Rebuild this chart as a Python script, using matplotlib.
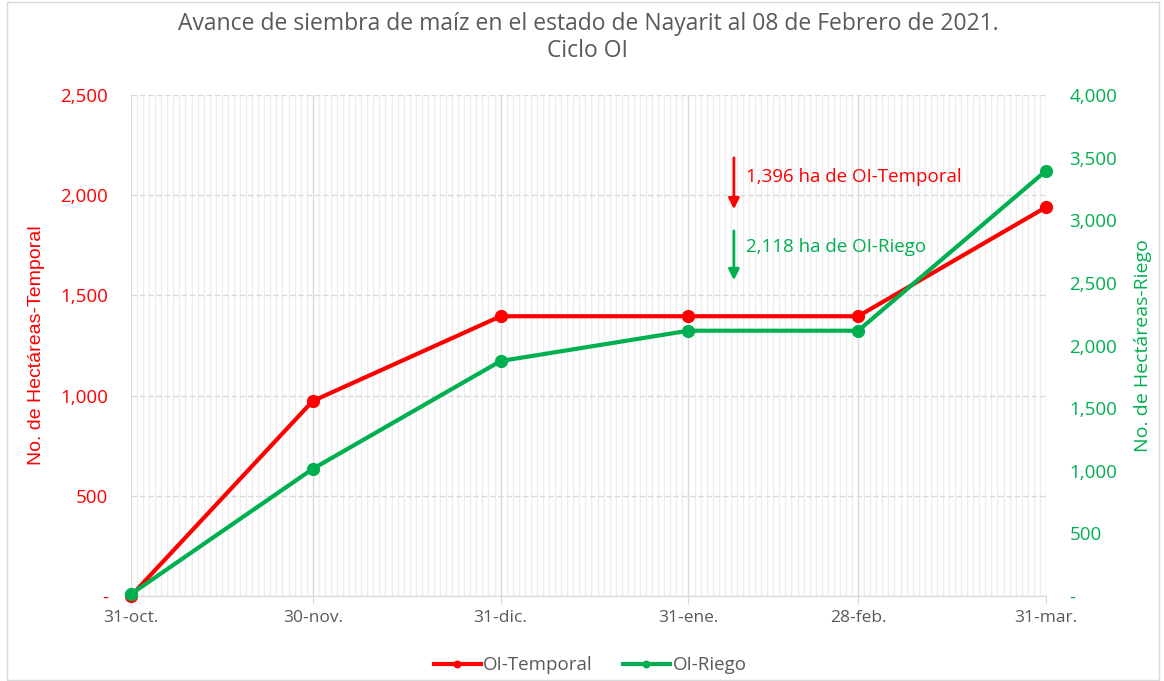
import datetime as dt
import matplotlib
matplotlib.use("Agg")
import matplotlib.pyplot as plt
import matplotlib.dates as mdates
from matplotlib.ticker import FuncFormatter, MultipleLocator

fechas = [dt.date(2020, 10, 31), dt.date(2020, 11, 30), dt.date(2020, 12, 31),
          dt.date(2021, 1, 31), dt.date(2021, 2, 28), dt.date(2021, 3, 31)]
etiquetas = ["31-oct.", "30-nov.", "31-dic.", "31-ene.", "28-feb.", "31-mar."]
temporal = [0, 973, 1396, 1396, 1396, 1940]
riego = [15, 1015, 1876, 2118, 2118, 3395]

ROJO = "#FF0000"
VERDE = "#00B050"
GRIS = "#595959"

plt.rcParams['font.family'] = ['Open Sans', 'DejaVu Sans']

fig = plt.figure(figsize=(11.64, 6.81), dpi=100)
ax = fig.add_axes([0.1125, 0.1248, 0.7861, 0.7357])
ax2 = ax.twinx()

l1, = ax.plot(fechas, temporal, color=ROJO, lw=3, marker="o", ms=8.5, label="OI-Temporal",
              zorder=3, clip_on=False)
l2, = ax2.plot(fechas, riego, color=VERDE, lw=3, marker="o", ms=8.5, label="OI-Riego",
               zorder=3, clip_on=False)

ax.set_xlim(fechas[0], fechas[-1])
ax.set_ylim(0, 2500)
ax2.set_ylim(0, 4000)

ax.set_xticks(fechas)
ax.set_xticklabels(etiquetas)
ax.xaxis.set_minor_locator(mdates.DayLocator())
ax.grid(which="minor", axis="x", color="#eeeeee", lw=1)
ax.grid(which="major", axis="x", color="#d9d9d9", lw=1)
ax.grid(which="major", axis="y", color="#d9d9d9", lw=1, ls=(0, (4, 2)))
ax.set_axisbelow(True)

fmt = FuncFormatter(lambda v, p: "-" if v == 0 else f"{v:,.0f}")
ax.yaxis.set_major_locator(MultipleLocator(500))
ax2.yaxis.set_major_locator(MultipleLocator(500))
ax.yaxis.set_major_formatter(fmt)
ax2.yaxis.set_major_formatter(fmt)

ax.tick_params(axis="y", colors=ROJO, labelsize=13.5, length=0, pad=16.5)
ax2.tick_params(axis="y", colors=VERDE, labelsize=13.5, length=0, pad=17)
ax.tick_params(axis="x", which="major", colors="#d9d9d9", labelcolor=GRIS, labelsize=12.5, length=6, pad=4)
ax.tick_params(axis="x", which="minor", length=0)

for a in (ax, ax2):
    for s in ("top", "left", "right"):
        a.spines[s].set_visible(False)
    a.spines["bottom"].set_color("#d9d9d9")

ax.set_ylabel("No. de Hectáreas-Temporal", color=ROJO, fontsize=14,
              family=['Liberation Sans', 'DejaVu Sans'], labelpad=11)
ax2.set_ylabel("No. de Hectáreas-Riego", color=VERDE, fontsize=14, labelpad=12)

fig.text(0.505, 0.945,
         "Avance de siembra de maíz en el estado de Nayarit al 08 de Febrero de 2021.\nCiclo OI",
         color=GRIS, fontsize=16.5, ha="center", va="center", linespacing=1.2)

# anotaciones
xa = dt.datetime(2021, 2, 7, 12)
xt = dt.datetime(2021, 2, 9, 12)
ax.annotate("", xy=(xa, 1916), xytext=(xa, 2200),
            arrowprops=dict(arrowstyle="-|>", color=ROJO, lw=2, mutation_scale=16), zorder=4)
ax.text(xt, 2091, "1,396 ha de OI-Temporal", color=ROJO, fontsize=13.5, va="center")
ax.annotate("", xy=(xa, 1562), xytext=(xa, 1836),
            arrowprops=dict(arrowstyle="-|>", color=VERDE, lw=2, mutation_scale=16), zorder=4)
ax.text(xt, 1741, "2,118 ha de OI-Riego", color=VERDE, fontsize=13.5, va="center")

fig.legend(handles=[l1, l2], loc="center", bbox_to_anchor=(0.507, 0.023), ncol=2,
           frameon=False, fontsize=13.5, labelcolor=GRIS, handlelength=2.5, columnspacing=1.6,
           handletextpad=0.15, markerscale=0.55)

fig.patches.append(plt.Rectangle((0.006, 0.002), 0.99, 0.995, transform=fig.transFigure,
                                 fill=False, edgecolor="#d9d9d9", lw=1))

fig.savefig("out.png", dpi=100)
